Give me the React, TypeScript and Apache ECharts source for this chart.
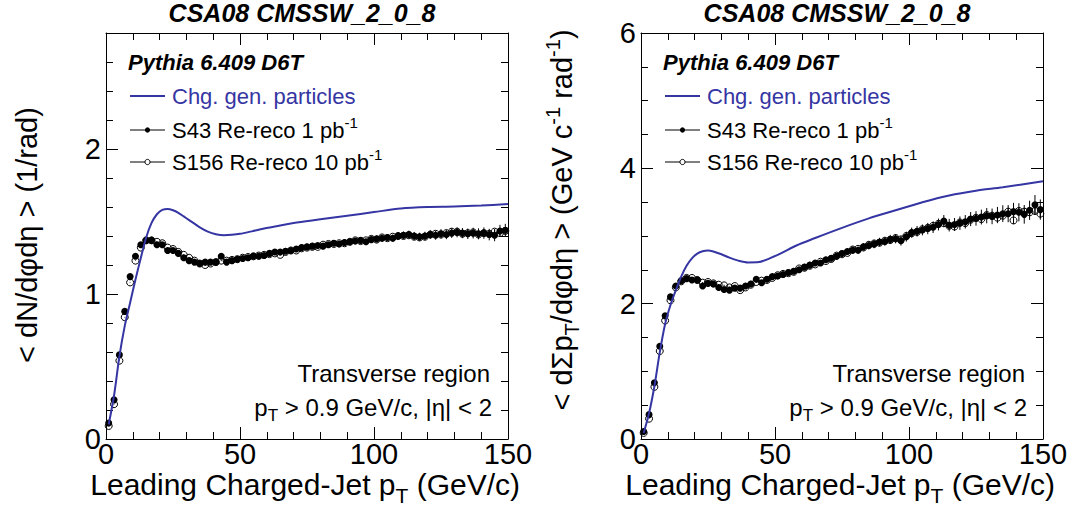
import React, { useEffect, useRef } from "react";
import * as echarts from "echarts";

// ---------- data ----------
const X_BINS = [1, 3, 5, 7, 9, 11, 13, 15, 17, 19, 21, 23, 25, 27, 29, 31, 33, 35, 37, 39, 41, 43, 45, 47, 49, 51, 53, 55, 57, 59, 61, 63, 65, 67, 69, 71, 73, 75, 77, 79, 81, 83, 85, 87, 89, 91, 93, 95, 97, 99, 101, 103, 105, 107, 109, 111, 113, 115, 117, 119, 121, 123, 125, 127, 129, 131, 133, 135, 137, 139, 141, 143, 145, 147, 149];

const S43_LEFT = [0.11, 0.27, 0.58, 0.88, 1.12, 1.26, 1.34, 1.37, 1.37, 1.34,
  1.34, 1.30, 1.30, 1.28, 1.25, 1.23, 1.22, 1.21, 1.22, 1.22,
  1.22, 1.26, 1.22, 1.23, 1.24, 1.245, 1.25, 1.26, 1.26, 1.265,
  1.28, 1.29, 1.29, 1.295, 1.30, 1.31, 1.32, 1.325, 1.33, 1.335,
  1.33, 1.34, 1.35, 1.345, 1.355, 1.36, 1.365, 1.37, 1.36, 1.375,
  1.38, 1.385, 1.39, 1.385, 1.40, 1.405, 1.41, 1.40, 1.395, 1.40,
  1.41, 1.405, 1.415, 1.41, 1.42, 1.425, 1.42, 1.415, 1.42, 1.415,
  1.42, 1.41, 1.405, 1.435, 1.44];
const E43_LEFT = [0.004, 0.005, 0.006, 0.006, 0.007, 0.007, 0.007, 0.007, 0.008, 0.008,
  0.008, 0.008, 0.009, 0.009, 0.009, 0.009, 0.01, 0.01, 0.01, 0.01,
  0.011, 0.011, 0.011, 0.012, 0.012, 0.012, 0.012, 0.013, 0.013, 0.013,
  0.014, 0.014, 0.014, 0.015, 0.015, 0.015, 0.016, 0.016, 0.017, 0.017,
  0.018, 0.018, 0.019, 0.019, 0.02, 0.02, 0.021, 0.021, 0.022, 0.022,
  0.023, 0.024, 0.024, 0.025, 0.026, 0.026, 0.027, 0.028, 0.028, 0.029,
  0.03, 0.031, 0.032, 0.032, 0.033, 0.034, 0.035, 0.036, 0.037, 0.038,
  0.039, 0.04, 0.041, 0.042, 0.044];
const S156_LEFT = [0.09, 0.24, 0.54, 0.84, 1.08, 1.23, 1.32, 1.37, 1.37, 1.36,
  1.35, 1.32, 1.31, 1.29, 1.27, 1.25, 1.23, 1.21, 1.20, 1.21,
  1.22, 1.23, 1.23, 1.235, 1.24, 1.25, 1.255, 1.26, 1.265, 1.27,
  1.275, 1.28, 1.27, 1.29, 1.30, 1.30, 1.315, 1.32, 1.325, 1.325,
  1.34, 1.345, 1.345, 1.35, 1.35, 1.36, 1.37, 1.365, 1.37, 1.38,
  1.375, 1.39, 1.385, 1.395, 1.40, 1.40, 1.405, 1.395, 1.39, 1.395,
  1.41, 1.415, 1.41, 1.42, 1.43, 1.43, 1.415, 1.42, 1.425, 1.41,
  1.42, 1.415, 1.43, 1.42, 1.435];
const E156_LEFT = [0.002, 0.002, 0.002, 0.002, 0.002, 0.002, 0.003, 0.003, 0.003, 0.003,
  0.003, 0.003, 0.003, 0.003, 0.003, 0.003, 0.003, 0.004, 0.004, 0.004,
  0.004, 0.004, 0.004, 0.004, 0.004, 0.004, 0.005, 0.005, 0.005, 0.005,
  0.005, 0.005, 0.005, 0.005, 0.006, 0.006, 0.006, 0.006, 0.006, 0.006,
  0.007, 0.007, 0.007, 0.007, 0.007, 0.008, 0.008, 0.008, 0.008, 0.008,
  0.009, 0.009, 0.009, 0.01, 0.01, 0.01, 0.011, 0.011, 0.011, 0.012,
  0.012, 0.013, 0.013, 0.013, 0.014, 0.014, 0.015, 0.015, 0.016, 0.016,
  0.017, 0.017, 0.018, 0.018, 0.019];

const S43_RIGHT = [0.11, 0.36, 0.83, 1.37, 1.82, 2.10, 2.26, 2.34, 2.37, 2.35,
  2.35, 2.26, 2.30, 2.29, 2.24, 2.21, 2.20, 2.23, 2.23, 2.26,
  2.29, 2.36, 2.31, 2.36, 2.40, 2.41, 2.43, 2.46, 2.48, 2.50,
  2.54, 2.57, 2.60, 2.60, 2.65, 2.67, 2.70, 2.74, 2.77, 2.79,
  2.79, 2.84, 2.86, 2.88, 2.91, 2.92, 2.95, 2.96, 2.93, 2.99,
  3.05, 3.07, 3.09, 3.11, 3.13, 3.17, 3.22, 3.16, 3.17, 3.19,
  3.21, 3.25, 3.26, 3.28, 3.30, 3.29, 3.31, 3.33, 3.33, 3.36,
  3.35, 3.32, 3.38, 3.46, 3.39];
const E43_RIGHT = [0.005, 0.007, 0.01, 0.012, 0.013, 0.014, 0.015, 0.016, 0.017, 0.018,
  0.019, 0.02, 0.021, 0.022, 0.023, 0.024, 0.025, 0.026, 0.027, 0.028,
  0.029, 0.03, 0.031, 0.032, 0.033, 0.034, 0.035, 0.036, 0.037, 0.038,
  0.04, 0.041, 0.042, 0.044, 0.045, 0.047, 0.048, 0.05, 0.052, 0.053,
  0.055, 0.057, 0.059, 0.061, 0.063, 0.065, 0.067, 0.069, 0.071, 0.073,
  0.075, 0.078, 0.08, 0.083, 0.085, 0.088, 0.09, 0.093, 0.096, 0.099,
  0.1, 0.104, 0.107, 0.11, 0.113, 0.116, 0.12, 0.124, 0.127, 0.13,
  0.134, 0.138, 0.142, 0.146, 0.15];
const S156_RIGHT = [0.09, 0.30, 0.77, 1.30, 1.75, 2.05, 2.24, 2.33, 2.38, 2.38,
  2.35, 2.31, 2.32, 2.30, 2.28, 2.27, 2.24, 2.26, 2.20, 2.24,
  2.28, 2.32, 2.34, 2.35, 2.38, 2.42, 2.44, 2.45, 2.47, 2.52,
  2.53, 2.56, 2.58, 2.62, 2.63, 2.66, 2.71, 2.73, 2.75, 2.80,
  2.81, 2.83, 2.87, 2.89, 2.90, 2.93, 2.94, 2.97, 2.95, 3.00,
  3.04, 3.06, 3.10, 3.12, 3.15, 3.18, 3.19, 3.15, 3.14, 3.20,
  3.19, 3.24, 3.27, 3.25, 3.31, 3.30, 3.27, 3.30, 3.36, 3.23,
  3.37, 3.36, 3.35, 3.37, 3.33];
const E156_RIGHT = [0.002, 0.003, 0.004, 0.005, 0.005, 0.006, 0.006, 0.006, 0.007, 0.007,
  0.008, 0.008, 0.008, 0.009, 0.009, 0.01, 0.01, 0.01, 0.011, 0.011,
  0.012, 0.012, 0.012, 0.013, 0.013, 0.014, 0.014, 0.014, 0.015, 0.015,
  0.016, 0.016, 0.017, 0.018, 0.018, 0.019, 0.019, 0.02, 0.021, 0.021,
  0.022, 0.023, 0.024, 0.024, 0.025, 0.026, 0.027, 0.028, 0.028, 0.029,
  0.03, 0.031, 0.032, 0.033, 0.034, 0.035, 0.036, 0.037, 0.038, 0.04,
  0.04, 0.042, 0.043, 0.044, 0.045, 0.046, 0.048, 0.05, 0.051, 0.052,
  0.054, 0.055, 0.057, 0.058, 0.06];

const GEN_X_LEFT = [1, 3, 5, 7, 9, 11, 13, 15, 17, 19, 21, 23, 25, 27, 29, 31, 33, 35, 38, 41, 44, 47, 50, 55, 60, 70, 80, 90, 100, 110, 120, 130, 140, 150];
const GEN_LEFT = [0.10, 0.30, 0.57, 0.78, 0.94, 1.10, 1.25, 1.39, 1.49, 1.55,
  1.58, 1.587, 1.578, 1.56, 1.535, 1.51, 1.485, 1.46, 1.43, 1.412,
  1.405, 1.408, 1.415, 1.435, 1.455, 1.49, 1.515, 1.54, 1.565, 1.59,
  1.60, 1.603, 1.61, 1.62];
const GEN_X_RIGHT = [1, 3, 5, 7, 9, 11, 13, 15, 17, 19, 21, 23, 25, 27, 30, 33, 36, 40, 44, 48, 52, 58, 65, 75, 85, 95, 105, 115, 125, 135, 150];
const GEN_RIGHT = [0.09, 0.38, 0.78, 1.28, 1.70, 1.98, 2.20, 2.40, 2.56, 2.67,
  2.74, 2.775, 2.785, 2.77, 2.73, 2.68, 2.64, 2.61, 2.615, 2.67,
  2.74, 2.86, 2.97, 3.12, 3.26, 3.38, 3.50, 3.60, 3.67, 3.72, 3.81];

const X_TICK_LABELS = ["0", "50", "100", "150"];
const TITLE = "CSA08 CMSSW_2_0_8";
const MC_LABEL = "Pythia 6.409 D6T";
const LEG_GEN = "Chg. gen. particles";
const LEG_S43 = "S43 Re-reco 1 pb";
const LEG_S156 = "S156 Re-reco 10 pb";

// ---------- styling ----------
const FONT = "'Liberation Sans', Arial, Helvetica, sans-serif";
const BLUE = "#3535a3";
const FRAME_TOP = 33;
const FRAME_H = 406;
const FRAME_W = 402;
const PANEL_LEFT = [106, 641];

function xAxisPair(grid: number) {
  const base = {
    gridIndex: grid,
    type: "value",
    min: 0,
    max: 150,
    interval: 50,
    axisLine: { show: true, onZero: false, lineStyle: { color: "#000", width: 1 } },
    axisTick: { show: true, inside: true, length: 12, lineStyle: { color: "#000", width: 1 } },
    minorTick: { show: true, splitNumber: 5, length: 7, lineStyle: { color: "#000", width: 1 } },
    splitLine: { show: false },
    minorSplitLine: { show: false },
  };
  return [
    {
      ...base,
      position: "bottom",
      axisLabel: {
        show: true,
        margin: 3,
        fontSize: 29,
        lineHeight: 24,
        fontFamily: FONT,
        color: "#000",
        formatter: (v: number) => {
          const s = String(v);
          return X_TICK_LABELS.indexOf(s) >= 0 ? s : "";
        },
      },
    },
    { ...base, position: "top", axisLabel: { show: false } },
  ];
}

function yAxis(grid: number, pos: string, max: number, interval: number, opts: any) {
  return {
    gridIndex: grid,
    type: "value",
    position: pos,
    min: 0,
    max,
    interval,
    axisLine: { show: opts.line, onZero: false, lineStyle: { color: "#000", width: 1 } },
    axisTick: { show: true, inside: true, length: opts.tick, lineStyle: { color: "#000", width: 1 } },
    minorTick: opts.minor
      ? { show: true, splitNumber: opts.minor, length: 7, lineStyle: { color: "#000", width: 1 } }
      : { show: false },
    splitLine: { show: false },
    minorSplitLine: { show: false },
    axisLabel: opts.label
      ? {
          show: true,
          margin: 5,
          fontSize: 29,
          lineHeight: 24,
          fontFamily: FONT,
          color: "#000",
          padding: [18, 0, 0, 0],
          formatter: (v: number) => (Math.abs(v - Math.round(v)) < 1e-9 ? String(Math.round(v)) : ""),
        }
      : { show: false },
  };
}

function errorSeries(xi: number, yi: number, ys: number[], es: number[], z: number) {
  return {
    type: "custom",
    xAxisIndex: xi,
    yAxisIndex: yi,
    z,
    silent: true,
    encode: { x: 0, y: 1 },
    data: X_BINS.map((x, i) => [x, ys[i], es[i]]),
    renderItem: (params: any, api: any) => {
      const x = api.value(0);
      const y = api.value(1);
      const e = api.value(2);
      const p1 = api.coord([x, y - e]);
      const p2 = api.coord([x, y + e]);
      return {
        type: "line",
        shape: { x1: p1[0], y1: p1[1], x2: p2[0], y2: p2[1] },
        style: { stroke: "#000", lineWidth: 1 },
      };
    },
  };
}

function panelSeries(xi: number, yi: number, s43: number[], e43: number[], s156: number[], e156: number[], gx: number[], gy: number[]) {
  return [
    errorSeries(xi, yi, s43, e43, 2),
    {
      type: "scatter",
      xAxisIndex: xi,
      yAxisIndex: yi,
      z: 3,
      silent: true,
      symbol: "circle",
      symbolSize: 7,
      itemStyle: { color: "#000", opacity: 1 },
      data: X_BINS.map((x, i) => [x, s43[i]]),
    },
    errorSeries(xi, yi, s156, e156, 4),
    {
      type: "scatter",
      xAxisIndex: xi,
      yAxisIndex: yi,
      z: 5,
      silent: true,
      symbol: "circle",
      symbolSize: 7,
      itemStyle: { color: "rgba(255,255,255,0)", borderColor: "#000", borderWidth: 1, opacity: 1 },
      data: X_BINS.map((x, i) => [x, s156[i]]),
    },
    {
      type: "line",
      xAxisIndex: xi,
      yAxisIndex: yi,
      z: 6,
      silent: true,
      smooth: 0.3,
      showSymbol: false,
      symbol: "none",
      lineStyle: { color: BLUE, width: 2 },
      data: gx.map((x, i) => [x, gy[i]]),
    },
  ];
}

function richSet(main: number, small: number, lh: number, sub: number, sup: number) {
  return {
    a: { fontSize: main, fontFamily: FONT, lineHeight: lh },
    s: { fontSize: small, fontFamily: FONT, lineHeight: lh, padding: [sub, 0, 0, 0] },
    u: { fontSize: small, fontFamily: FONT, lineHeight: lh, padding: [0, 0, sup, 0] },
  };
}

function panelGraphics(fl: number, yTitle: string, yTitleX: number, yTitleY: number) {
  const fr = fl + FRAME_W;
  const legLineX1 = fl + 24;
  const legLineX2 = fl + 59;
  const legText = fl + 66;
  const els: any[] = [
    {
      type: "text",
      x: fl + 196,
      y: 13,
      silent: true,
      style: { text: TITLE, fill: "#000", fontFamily: FONT, fontSize: 25, lineHeight: 22, fontWeight: "bold", fontStyle: "italic", align: "center", verticalAlign: "middle" },
    },
    {
      type: "text",
      x: fl + 22,
      y: 62,
      silent: true,
      style: { text: MC_LABEL, fill: "#000", fontFamily: FONT, fontSize: 22, fontWeight: "bold", fontStyle: "italic", align: "left", verticalAlign: "middle" },
    },
    { type: "line", silent: true, shape: { x1: legLineX1, y1: 96, x2: legLineX2, y2: 96 }, style: { stroke: BLUE, lineWidth: 2 } },
    {
      type: "text",
      x: legText,
      y: 96,
      silent: true,
      style: { text: LEG_GEN, fill: BLUE, fontFamily: FONT, fontSize: 22, align: "left", verticalAlign: "middle" },
    },
    { type: "line", silent: true, shape: { x1: legLineX1, y1: 130, x2: legLineX2, y2: 130 }, style: { stroke: "#000", lineWidth: 1 } },
    { type: "circle", silent: true, shape: { cx: (legLineX1 + legLineX2) / 2, cy: 130, r: 2.6 }, style: { fill: "#000" } },
    {
      type: "text",
      x: legText,
      y: 130,
      silent: true,
      style: { text: `{a|${LEG_S43}}{u|-1}`, rich: richSet(22, 15, 26, 0, 16), fill: "#000", fontFamily: FONT, fontSize: 22, align: "left", verticalAlign: "middle" },
    },
    { type: "line", silent: true, shape: { x1: legLineX1, y1: 162, x2: legLineX2, y2: 162 }, style: { stroke: "#000", lineWidth: 1 } },
    { type: "circle", silent: true, shape: { cx: (legLineX1 + legLineX2) / 2, cy: 162, r: 2.6 }, style: { fill: "#fff", stroke: "#000", lineWidth: 1 } },
    {
      type: "text",
      x: legText,
      y: 162,
      silent: true,
      style: { text: `{a|${LEG_S156}}{u|-1}`, rich: richSet(22, 15, 26, 0, 16), fill: "#000", fontFamily: FONT, fontSize: 22, align: "left", verticalAlign: "middle" },
    },
    {
      type: "text",
      x: fr - 18,
      y: 373,
      silent: true,
      style: { text: "Transverse region", fill: "#000", fontFamily: FONT, fontSize: 24, align: "right", verticalAlign: "middle" },
    },
    {
      type: "text",
      x: fr - 16,
      y: 407,
      silent: true,
      style: { text: "{a|p}{s|T}{a| > 0.9 GeV/c, |η| < 2}", rich: richSet(24, 17, 30, 16, 0), fill: "#000", fontFamily: FONT, fontSize: 24, align: "right", verticalAlign: "middle" },
    },
    {
      type: "text",
      x: fr + 12,
      y: 484,
      silent: true,
      style: { text: "{a|Leading Charged-Jet p}{s|T}{a| (GeV/c)}", rich: richSet(30, 21, 28, 22, 0), fill: "#000", fontFamily: FONT, fontSize: 30, align: "right", verticalAlign: "middle" },
    },
    {
      type: "text",
      x: yTitleX,
      y: yTitleY,
      rotation: Math.PI / 2,
      silent: true,
      style: { text: yTitle, rich: richSet(29, 20, 34, 20, 18), fill: "#000", fontFamily: FONT, fontSize: 29, align: "center", verticalAlign: "middle" },
    },
  ];
  return els;
}

export default function App() {
  const ref = useRef<HTMLDivElement>(null);
  useEffect(() => {
    if (!ref.current) return;
    const chart = echarts.init(ref.current, undefined, { renderer: "svg" });
    const [xl0, xl1] = xAxisPair(0);
    const [xr0, xr1] = xAxisPair(1);
    const option: any = {
      animation: false,
      backgroundColor: "#fff",
      grid: [
        { left: PANEL_LEFT[0], top: FRAME_TOP, width: FRAME_W, height: FRAME_H, containLabel: false },
        { left: PANEL_LEFT[1], top: FRAME_TOP, width: FRAME_W, height: FRAME_H, containLabel: false },
      ],
      xAxis: [xl0, xl1, xr0, xr1],
      yAxis: [
        yAxis(0, "left", 2.8, 1, { line: true, tick: 12, label: true }),
        yAxis(0, "left", 2.8, 0.2, { line: false, tick: 7 }),
        yAxis(0, "right", 2.8, 1, { line: true, tick: 12 }),
        yAxis(0, "right", 2.8, 0.2, { line: false, tick: 7 }),
        yAxis(1, "left", 6, 2, { line: true, tick: 12, label: true, minor: 4 }),
        yAxis(1, "right", 6, 2, { line: true, tick: 12, minor: 4 }),
      ],
      series: [
        ...panelSeries(0, 0, S43_LEFT, E43_LEFT, S156_LEFT, E156_LEFT, GEN_X_LEFT, GEN_LEFT),
        ...panelSeries(2, 4, S43_RIGHT, E43_RIGHT, S156_RIGHT, E156_RIGHT, GEN_X_RIGHT, GEN_RIGHT),
      ],
      graphic: [
        ...panelGraphics(PANEL_LEFT[0], "{a|< dN/dφdη > (1/rad)}", 27, 235),
        ...panelGraphics(PANEL_LEFT[1], "{a|< dΣp}{s|T}{a|/dφdη > (GeV c}{u|-1}{a| rad}{u|-1}{a|)}", 562, 220),
      ],
    };
    chart.setOption(option);
    return () => chart.dispose();
  }, []);
  return (
    <div
      ref={ref}
      style={{ position: "absolute", left: 0, top: 0, width: 1073, height: 513, background: "#fff" }}
    />
  );
}
